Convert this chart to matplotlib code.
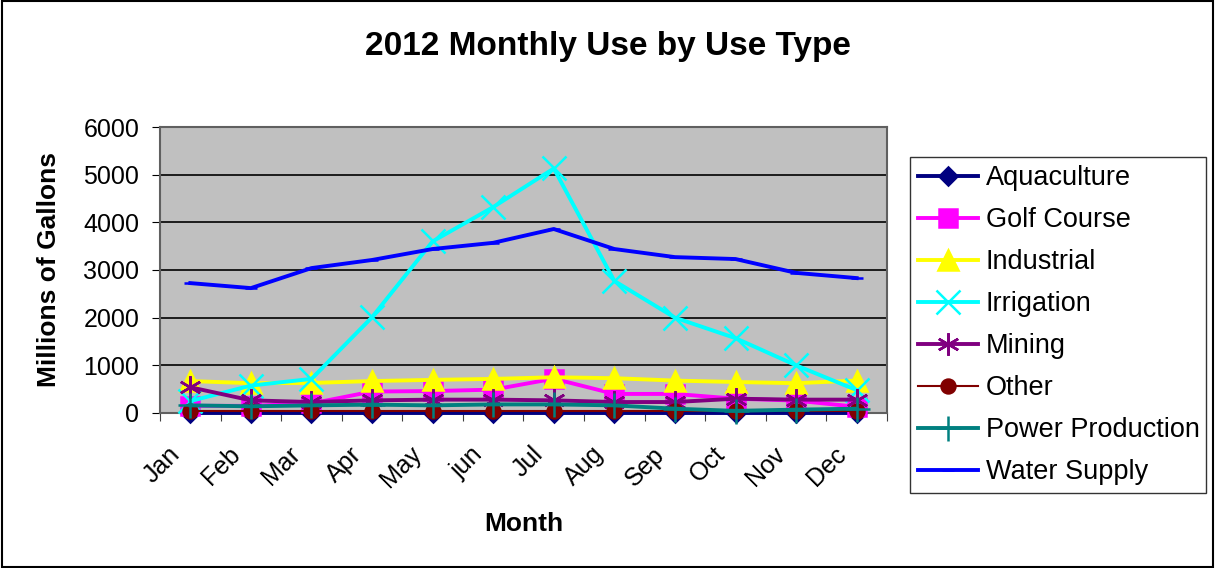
import numpy as np
import matplotlib.pyplot as plt
import matplotlib.transforms as mtransforms

plt.rcParams['font.family'] = ['Liberation Sans', 'DejaVu Sans']
plt.rcParams['font.size'] = 13

months = ['Jan', 'Feb', 'Mar', 'Apr', 'May', 'jun', 'Jul', 'Aug', 'Sep', 'Oct', 'Nov', 'Dec']

# Millions of gallons
aquaculture = [10, 10, 10, 10, 10, 10, 10, 10, 10, 10, 10, 10]
golf_course = [150, 150, 200, 450, 460, 490, 720, 400, 400, 300, 260, 130]
industrial = [670, 625, 630, 670, 695, 715, 750, 730, 680, 650, 625, 680]
irrigation = [250, 575, 715, 2010, 3600, 4320, 5130, 2770, 2000, 1570, 1000, 480]
mining = [540, 265, 230, 265, 280, 280, 265, 230, 230, 300, 280, 280]
other = [35, 35, 35, 35, 35, 35, 35, 35, 35, 35, 35, 35]
power_production = [160, 140, 160, 175, 160, 180, 180, 160, 90, 45, 70, 90]
water_supply = [2725, 2620, 3040, 3210, 3440, 3570, 3860, 3440, 3270, 3230, 2940, 2830]

series = [
    ('Aquaculture', aquaculture, '#000080', 'D', 9, 2.8),
    ('Golf Course', golf_course, '#FF00FF', 's', 13, 2.8),
    ('Industrial', industrial, '#FFFF00', '^', 15, 2.8),
    ('Irrigation', irrigation, '#00FFFF', 'x', 17, 2.8),
    ('Mining', mining, '#800080', (6, 2, 0), 16, 2.8),
    ('Other', other, '#800000', 'o', 10, 1.5),
    ('Power Production', power_production, '#008080', '+', 18, 2.8),
    ('Water Supply', water_supply, '#0000FF', '_', 9, 2.8),
]

fig = plt.figure(figsize=(12.15, 5.68), dpi=100)
ax = fig.add_axes([0.1317, 0.2729, 0.5983, 0.5035])
ax.set_facecolor('#C0C0C0')

x = np.arange(len(months))
for name, vals, col, mk, ms, lw in series:
    ax.plot(x, vals, color=col, lw=lw, marker=mk, markersize=ms,
            markerfacecolor=col, markeredgecolor=col, markeredgewidth=1.8,
            label=name, clip_on=False, zorder=3)

ax.set_xlim(-0.5, 11.5)
ax.set_ylim(0, 6000)
ax.set_yticks(range(0, 6001, 1000))
ax.yaxis.grid(True, color='black', lw=1.2)
ax.set_axisbelow(True)

ax.set_xticks(np.arange(-0.5, 12, 1))
ax.set_xticklabels([])
ax.set_xticks(x, minor=True)
ax.set_xticklabels(months, minor=True, rotation=45, ha='right', rotation_mode='anchor')
ax.tick_params(axis='x', which='minor', length=0, pad=8, labelsize=18)
ax.tick_params(axis='x', which='major', length=6, color='#404040')
ax.tick_params(axis='y', length=6, labelsize=18, pad=9)
# nudge month labels down-left like the original
shift = mtransforms.ScaledTranslation(-0.23, -0.18, fig.dpi_scale_trans)
for lab in ax.get_xticklabels(minor=True):
    lab.set_transform(lab.get_transform() + shift)
for s in ax.spines.values():
    s.set_color('#606060')
    s.set_linewidth(1.5)

ax.set_xlabel('Month', fontweight='bold', fontsize=19, labelpad=14)
ax.set_ylabel('Millions of Gallons', fontweight='bold', fontsize=19, labelpad=16)
fig.text(0.5, 0.918, '2012 Monthly Use by Use Type', ha='center', va='center',
         fontweight='bold', fontsize=24)

leg = fig.legend(loc='upper left', bbox_to_anchor=(0.749, 0.13, 0.244, 0.593),
                 mode='expand', frameon=True, fancybox=False, fontsize=19.5,
                 handlelength=2.2, labelspacing=0.59, borderaxespad=0,
                 borderpad=0.3, handletextpad=0.3)
leg.get_frame().set_edgecolor('black')
leg.get_frame().set_linewidth(1)

fig.patches.append(plt.Rectangle((0.002, 0.002), 0.996, 0.996, transform=fig.transFigure,
                                 fill=False, edgecolor='black', lw=1.5))

fig.savefig('out.png', dpi=100)
